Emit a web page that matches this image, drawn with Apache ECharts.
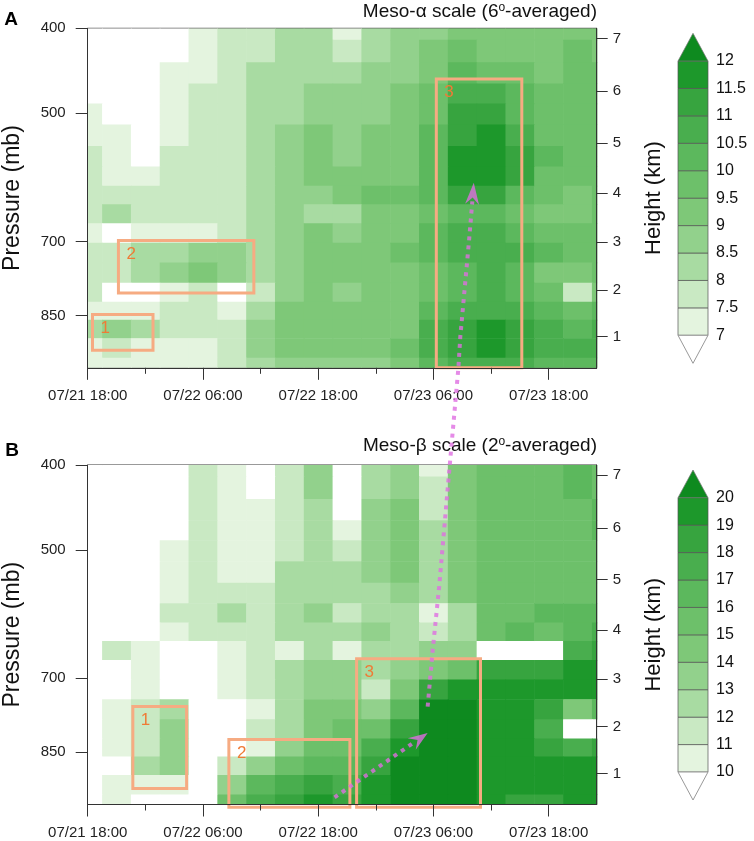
<!DOCTYPE html>
<html>
<head>
<meta charset="utf-8">
<title>Meso-alpha / Meso-beta averaged profiles</title>
<script src="https://cdn.jsdelivr.net/npm/echarts@6/dist/echarts.min.js"></script>
<style>
    html, body { margin: 0; padding: 0; background: #fff; }
    #main { width: 754px; height: 841px; }
</style>
</head>
<body>
<div id="main"></div>
<script type="text/javascript">
    // hours after 07/21 18:00, one column every 3 h
    var hours = [0, 3, 6, 9, 12, 15, 18, 21, 24, 27, 30, 33, 36, 39, 42, 45, 48, 51, 54];
    // pressure levels (mb), top to bottom
    var levels = [400, 425, 450, 475, 500, 530, 560, 590, 620, 650, 685, 720, 760, 800, 840, 880, 925, 975];

    var timeTicks = [0, 12, 24, 36, 48];
    var timeLabels = ['07/21 18:00', '07/22 06:00', '07/22 18:00', '07/23 06:00', '07/23 18:00'];
    var minorTimeTicks = [6, 18, 30, 42];
    var pressureTicks = [400, 500, 700, 850];
    var heightKm = [1, 2, 3, 4, 5, 6, 7];
    var heightPressure = [898.7, 795.0, 701.1, 616.4, 540.2, 471.8, 411.0];

    var alphaLevels = [7, 7.5, 8, 8.5, 9, 9.5, 10, 10.5, 11, 11.5, 12];
    var betaLevels = [10, 11, 12, 13, 14, 15, 16, 17, 18, 19, 20];
    var greens = ['#ffffff', '#e4f4df', '#c9e9c3', '#a8dba2', '#92d18c', '#7ec878', '#6dc06a',
        '#5cb85d', '#49ae4e', '#37a43f', '#1d982b', '#0e8a1f'];

    // Meso-alpha (6 deg averaged), one row per level
    var alphaRows = [
        [6.8, 6.8, 6.8, 6.8, 7.2, 7.7, 7.7, 8.2, 8.2, 7.2, 8.2, 8.7, 8.7, 9.2, 9.2, 9.2, 9.2, 9.2, 9.2],
        [6.8, 6.8, 6.8, 6.8, 7.2, 7.7, 7.7, 8.2, 8.2, 7.7, 8.2, 8.7, 9.2, 9.7, 9.2, 9.2, 9.2, 9.7, 9.2],
        [6.8, 6.8, 6.8, 7.2, 7.2, 7.7, 8.2, 8.2, 8.2, 8.2, 8.7, 8.7, 9.2, 10.2, 9.7, 9.7, 9.2, 9.7, 9.7],
        [6.8, 6.8, 6.8, 7.2, 7.7, 7.7, 8.2, 8.2, 8.7, 8.7, 8.7, 9.2, 9.7, 10.7, 10.7, 10.2, 9.7, 9.7, 9.7],
        [7.2, 6.8, 6.8, 7.2, 7.7, 7.7, 8.2, 8.2, 8.7, 8.7, 8.7, 9.2, 9.7, 11.2, 11.2, 10.2, 9.7, 9.7, 9.7],
        [7.2, 7.2, 6.8, 7.2, 7.7, 7.7, 8.2, 8.7, 9.2, 8.7, 9.2, 9.2, 10.2, 11.2, 11.7, 10.7, 9.7, 9.7, 9.7],
        [7.7, 7.2, 6.8, 7.7, 7.7, 7.7, 8.2, 8.7, 9.2, 8.7, 9.2, 9.2, 10.2, 11.7, 11.7, 11.2, 10.2, 9.7, 9.7],
        [7.7, 7.2, 7.2, 7.7, 7.7, 7.7, 8.2, 8.7, 9.2, 9.2, 9.2, 9.2, 10.2, 11.7, 11.7, 11.2, 9.7, 9.7, 9.7],
        [7.7, 7.7, 7.7, 7.7, 7.7, 7.7, 8.2, 8.7, 8.7, 9.2, 9.7, 9.7, 10.2, 11.2, 11.2, 10.2, 9.7, 9.2, 9.7],
        [7.7, 8.2, 7.7, 7.7, 7.7, 7.7, 8.2, 8.7, 8.2, 8.2, 9.2, 9.2, 9.7, 10.2, 10.2, 9.7, 9.2, 9.2, 9.7],
        [7.2, 6.8, 7.2, 7.2, 7.2, 7.7, 8.2, 8.7, 9.2, 8.7, 9.2, 9.2, 10.2, 10.7, 10.7, 10.2, 9.7, 9.7, 9.7],
        [7.7, 7.7, 8.2, 8.2, 8.7, 8.7, 8.2, 8.7, 9.2, 9.2, 9.2, 9.7, 10.2, 10.7, 10.7, 10.7, 10.2, 9.7, 9.7],
        [7.7, 7.7, 8.2, 8.7, 9.2, 8.7, 8.2, 8.7, 9.2, 9.2, 9.2, 9.2, 9.7, 10.2, 10.7, 10.2, 9.2, 9.2, 9.7],
        [7.7, 6.8, 6.8, 7.2, 7.7, 6.8, 7.7, 8.7, 9.2, 8.7, 9.2, 9.2, 9.7, 10.2, 10.7, 10.2, 9.7, 7.7, 9.2],
        [7.2, 7.2, 7.2, 7.7, 7.7, 7.2, 8.2, 9.2, 9.2, 9.2, 9.2, 9.2, 10.2, 10.7, 10.7, 10.7, 10.2, 9.7, 10.2],
        [8.2, 8.7, 8.2, 7.7, 7.7, 7.7, 8.7, 9.2, 9.2, 9.2, 9.2, 9.2, 10.7, 11.2, 11.7, 11.2, 10.7, 10.2, 10.7],
        [7.2, 7.7, 7.2, 7.2, 7.2, 7.7, 8.7, 9.2, 9.2, 9.2, 9.2, 9.7, 10.7, 11.2, 11.7, 11.2, 10.7, 10.7, 10.7],
        [7.2, 7.2, 7.2, 7.2, 7.2, 7.7, 8.2, 8.7, 8.7, 8.7, 8.7, 9.2, 10.2, 10.7, 10.7, 10.7, 10.2, 10.2, 10.2]
    ];

    // Meso-beta (2 deg averaged)
    var betaRows = [
        [9.5, 9.5, 9.5, 9.5, 11.5, 10.5, 9.5, 11.5, 13.5, 9.5, 12.5, 13.5, 10.5, 14.5, 15.5, 15.5, 15.5, 16.5, 15.5],
        [9.5, 9.5, 9.5, 9.5, 11.5, 10.5, 9.5, 11.5, 13.5, 9.5, 12.5, 13.5, 11.5, 14.5, 15.5, 15.5, 15.5, 16.5, 15.5],
        [9.5, 9.5, 9.5, 9.5, 11.5, 10.5, 10.5, 11.5, 12.5, 9.5, 13.5, 14.5, 11.5, 14.5, 15.5, 15.5, 15.5, 15.5, 16.5],
        [9.5, 9.5, 9.5, 9.5, 11.5, 10.5, 10.5, 11.5, 12.5, 10.5, 13.5, 14.5, 12.5, 14.5, 15.5, 15.5, 15.5, 15.5, 16.5],
        [9.5, 9.5, 9.5, 10.5, 11.5, 10.5, 10.5, 11.5, 12.5, 11.5, 13.5, 14.5, 12.5, 14.5, 15.5, 15.5, 15.5, 15.5, 15.5],
        [9.5, 9.5, 9.5, 10.5, 11.5, 10.5, 10.5, 12.5, 12.5, 12.5, 13.5, 14.5, 12.5, 14.5, 15.5, 15.5, 15.5, 15.5, 15.5],
        [9.5, 9.5, 9.5, 10.5, 11.5, 11.5, 11.5, 12.5, 12.5, 12.5, 12.5, 13.5, 12.5, 14.5, 15.5, 15.5, 15.5, 15.5, 15.5],
        [9.5, 9.5, 9.5, 11.5, 11.5, 12.5, 11.5, 12.5, 13.5, 11.5, 12.5, 12.5, 10.5, 12.5, 15.5, 15.5, 16.5, 16.5, 16.5],
        [9.5, 9.5, 9.5, 10.5, 11.5, 11.5, 11.5, 12.5, 12.5, 12.5, 13.5, 12.5, 11.5, 12.5, 15.5, 16.5, 15.5, 16.5, 17.5],
        [9.5, 11.5, 10.5, 9.5, 9.5, 10.5, 11.5, 10.5, 12.5, 10.5, 12.5, 12.5, 13.5, 13.5, 9.5, 9.5, 9.5, 17.5, 18.5],
        [9.5, 9.5, 10.5, 9.5, 9.5, 10.5, 11.5, 12.5, 13.5, 13.5, 12.5, 13.5, 14.5, 15.5, 18.5, 18.5, 18.5, 19.5, 19.5],
        [9.5, 9.5, 10.5, 9.5, 9.5, 10.5, 11.5, 12.5, 13.5, 13.5, 11.5, 14.5, 18.5, 19.5, 19.5, 19.5, 19.5, 19.5, 19.5],
        [9.5, 10.5, 11.5, 12.5, 9.5, 9.5, 10.5, 12.5, 14.5, 14.5, 13.5, 16.5, 20.5, 20.5, 19.5, 19.5, 18.5, 14.5, 16.5],
        [9.5, 10.5, 11.5, 13.5, 9.5, 9.5, 11.5, 12.5, 14.5, 15.5, 15.5, 18.5, 20.5, 20.5, 19.5, 19.5, 17.5, 9.5, 9.5],
        [9.5, 10.5, 11.5, 13.5, 9.5, 9.5, 10.5, 13.5, 15.5, 15.5, 17.5, 19.5, 20.5, 20.5, 19.5, 19.5, 18.5, 17.5, 18.5],
        [9.5, 9.5, 12.5, 13.5, 9.5, 11.5, 13.5, 15.5, 16.5, 16.5, 18.5, 20.5, 20.5, 20.5, 19.5, 19.5, 19.5, 19.5, 19.5],
        [9.5, 10.5, 10.5, 10.5, 9.5, 13.5, 16.5, 17.5, 18.5, 17.5, 19.5, 20.5, 20.5, 20.5, 19.5, 19.5, 19.5, 19.5, 19.5],
        [9.5, 10.5, 9.5, 9.5, 9.5, 15.5, 17.5, 18.5, 19.5, 18.5, 19.5, 20.5, 20.5, 20.5, 19.5, 18.5, 18.5, 19.5, 19.5]
    ];

    // boxes: [start hour, end hour, top mb, bottom mb, label]
    var alphaBoxes = [[0.5, 6.8, 848, 931, '1'], [3.2, 17.3, 698, 801, '2'], [36.3, 45.2, 457, 975, '3']];
    var betaBoxes = [[4.7, 10.3, 754, 935, '1'], [14.7, 27.3, 822, 982, '2'], [28.0, 40.9, 665, 982, '3']];
    // arrows: [panel, hour, mb], last point is the tip
    var arrowLong = [[1, 35.4, 754], [1, 35.9, 654], [1, 36.6, 550], [1, 37.7, 400], [0, 38.6, 975],
        [0, 38.8, 898], [0, 39.7, 700], [0, 40.05, 630], [0, 40.2, 600]];
    var arrowShort = [[1, 25.7, 957], [1, 34.0, 828], [1, 35.4, 808]];

    var FONT = '"Liberation Sans", Arial, Helvetica, sans-serif';
    var GRID_LEFT = 87.7, GRID_W = 509, GRID_H = 339.5;
    var panelTops = [28.3, 465];
    var T_MAX = 53;

    var myChart = echarts.init(document.getElementById('main'));

    function colorFor(v, thresholds) {
        var k = 0;
        for (var i = 0; i < thresholds.length; i++) {
            if (v >= thresholds[i]) k = i + 1;
        }
        return greens[k];
    }

    function cellData(rows) {
        var out = [];
        rows.forEach(function (row, r) {
            row.forEach(function (v, c) {
                out.push([hours[c], Math.log(levels[r]), v, r]);
            });
        });
        return out;
    }

    function cellRenderer(thresholds) {
        return function (params, api) {
            var h = api.value(0), v = api.value(2), r = api.value(3);
            var pTop = r === 0 ? levels[0] : Math.sqrt(levels[r - 1] * levels[r]);
            var pBot = r === levels.length - 1 ? levels[r] : Math.sqrt(levels[r] * levels[r + 1]);
            var a = api.coord([Math.max(0, h - 1.5), Math.log(pTop)]);
            var b = api.coord([Math.min(T_MAX, h + 1.5), Math.log(pBot)]);
            return {
                type: 'rect',
                shape: {x: a[0], y: a[1], width: b[0] - a[0] + 0.6, height: b[1] - a[1] + 0.6},
                style: {fill: colorFor(v, thresholds)}
            };
        };
    }

    function boxRenderer(boxes) {
        return function (params, api) {
            var a = api.coord([api.value(0), Math.log(api.value(2))]);
            var b = api.coord([api.value(1), Math.log(api.value(3))]);
            return {
                type: 'group',
                children: [{
                    type: 'rect',
                    shape: {x: a[0], y: a[1], width: b[0] - a[0], height: b[1] - a[1]},
                    style: {fill: 'none', stroke: '#f6ab82', lineWidth: 3}
                }, {
                    type: 'text',
                    x: a[0] + 8, y: a[1] + 5,
                    style: {text: boxes[params.dataIndex][4], fill: '#ef7b36', fontSize: 17, fontFamily: FONT, verticalAlign: 'top'}
                }]
            };
        };
    }

    var axisLineStyle = {color: '#333', width: 1};
    var lnMin = Math.log(400), lnMax = Math.log(975);

    function timeAxis(gi) {
        return {
            type: 'value', gridIndex: gi, min: 0, max: T_MAX, position: 'bottom', z: 10,
            axisLine: {show: true, onZero: false, lineStyle: axisLineStyle},
            axisTick: {show: true, length: 12, customValues: timeTicks, lineStyle: axisLineStyle},
            axisLabel: {
                customValues: timeTicks, margin: 21, fontSize: 15, color: '#222', fontFamily: FONT,
                formatter: function (v) {
                    var i = timeTicks.indexOf(Math.round(v));
                    return i < 0 ? '' : timeLabels[i];
                }
            },
            splitLine: {show: false}
        };
    }

    function minorTimeAxis(gi) {
        return {
            type: 'value', gridIndex: gi, min: 0, max: T_MAX, position: 'bottom', z: 10,
            axisLine: {show: false, onZero: false},
            axisTick: {show: true, length: 6, customValues: minorTimeTicks, lineStyle: axisLineStyle},
            axisLabel: {show: false},
            splitLine: {show: false}
        };
    }

    function pressureAxis(gi) {
        var vals = pressureTicks.map(Math.log);
        return {
            type: 'value', gridIndex: gi, min: lnMin, max: lnMax, inverse: true, position: 'left', z: 10,
            name: 'Pressure (mb)', nameLocation: 'middle', nameRotate: 90, nameGap: 64,
            nameTextStyle: {fontSize: 23, color: '#111', fontFamily: FONT},
            axisLine: {show: true, onZero: false, lineStyle: axisLineStyle},
            axisTick: {show: true, length: 12, customValues: vals, lineStyle: axisLineStyle},
            axisLabel: {
                customValues: vals, margin: 22, fontSize: 15, color: '#222', fontFamily: FONT,
                formatter: function (v) { return String(Math.round(Math.exp(v))); }
            },
            splitLine: {show: false}
        };
    }

    function heightAxis(gi) {
        var vals = heightPressure.map(Math.log);
        return {
            type: 'value', gridIndex: gi, min: lnMin, max: lnMax, inverse: true, position: 'right', z: 10,
            name: 'Height (km)', nameLocation: 'middle', nameRotate: 90, nameGap: 46,
            nameTextStyle: {fontSize: 22, color: '#111', fontFamily: FONT},
            axisLine: {show: true, onZero: false, lineStyle: axisLineStyle},
            axisTick: {show: true, length: 11, customValues: vals, lineStyle: axisLineStyle},
            axisLabel: {
                customValues: vals, margin: 16, fontSize: 15, color: '#222', fontFamily: FONT,
                formatter: function (v) {
                    for (var i = 0; i < vals.length; i++) {
                        if (Math.abs(vals[i] - v) < 1e-6) return String(heightKm[i]);
                    }
                    return '';
                }
            },
            splitLine: {show: false}
        };
    }

    var titleStyle = {
        fontSize: 19, fontWeight: 'normal', color: '#111', fontFamily: FONT,
        rich: {sup: {fontSize: 12, fontFamily: FONT, color: '#111', verticalAlign: 'top', padding: [0, 0, 8, 0]}}
    };

    option = {
        backgroundColor: '#fff',
        animation: false,
        title: [{
            text: 'Meso-\u03b1 scale (6{sup|o}-averaged)', right: 157, top: 2, padding: 0, textStyle: titleStyle
        }, {
            text: 'Meso-\u03b2 scale (2{sup|o}-averaged)', right: 157, top: 436, padding: 0, textStyle: titleStyle
        }],
        grid: panelTops.map(function (t) {
            return {left: GRID_LEFT, top: t, width: GRID_W, height: GRID_H, show: true,
                outerBoundsMode: 'none', containLabel: false,
                borderColor: '#333', borderWidth: 1, backgroundColor: 'transparent'};
        }),
        xAxis: [timeAxis(0), minorTimeAxis(0), timeAxis(1), minorTimeAxis(1)],
        yAxis: [pressureAxis(0), heightAxis(0), pressureAxis(1), heightAxis(1)],
        series: [{
            type: 'custom', name: 'alpha', xAxisIndex: 0, yAxisIndex: 0, clip: true, z: 1,
            renderItem: cellRenderer(alphaLevels), data: cellData(alphaRows)
        }, {
            type: 'custom', name: 'beta', xAxisIndex: 2, yAxisIndex: 2, clip: true, z: 1,
            renderItem: cellRenderer(betaLevels), data: cellData(betaRows)
        }, {
            type: 'custom', name: 'alphaBoxes', xAxisIndex: 0, yAxisIndex: 0, clip: false, z: 5,
            renderItem: boxRenderer(alphaBoxes),
            data: alphaBoxes.map(function (b) { return [b[0], b[1], b[2], b[3]]; })
        }, {
            type: 'custom', name: 'betaBoxes', xAxisIndex: 2, yAxisIndex: 2, clip: false, z: 5,
            renderItem: boxRenderer(betaBoxes),
            data: betaBoxes.map(function (b) { return [b[0], b[1], b[2], b[3]]; })
        }]
    };
    myChart.setOption(option);

    // colour bars next to each panel
    function colorbar(top, thresholds) {
        var els = [];
        var x = 678, w = 30, boxTop = top + 32.7, boxH = 27.43, boxBot = boxTop + 10 * boxH;
        for (var k = 1; k <= 10; k++) {
            els.push({type: 'rect', z: 50, shape: {x: x, y: boxBot - k * boxH, width: w, height: boxH},
                style: {fill: greens[k], stroke: '#555', lineWidth: 0.7}});
        }
        els.push({type: 'polygon', z: 50, shape: {points: [[x, boxTop], [x + w, boxTop], [x + w / 2, top + 5]]},
            style: {fill: greens[11], stroke: '#777', lineWidth: 0.7}});
        els.push({type: 'polygon', z: 50, shape: {points: [[x, boxBot], [x + w, boxBot], [x + w / 2, top + 335]]},
            style: {fill: '#fff', stroke: '#999', lineWidth: 1}});
        thresholds.forEach(function (t, i) {
            els.push({type: 'text', z: 50, x: 716, y: boxBot - i * boxH,
                style: {text: String(t), fontSize: 16, fontFamily: FONT, fill: '#111', align: 'left', verticalAlign: 'middle'}});
        });
        return els;
    }

    function toPixel(pt) {
        return myChart.convertToPixel({gridIndex: pt[0]}, [pt[1], Math.log(pt[2])]);
    }

    var arrowColor = 'rgba(222, 110, 225, 0.8)';
    function arrow(path, headW) {
        var pts = path.map(toPixel);
        var tip = pts[pts.length - 1], base = pts[pts.length - 2];
        var dx = tip[0] - base[0], dy = tip[1] - base[1];
        var len = Math.sqrt(dx * dx + dy * dy);
        var ux = dx / len, uy = dy / len, nx = -uy, ny = ux;
        return [{
            type: 'polyline', z: 60, shape: {points: pts.slice(0, pts.length - 1)},
            style: {stroke: arrowColor, lineWidth: 4, lineDash: [4, 5], fill: null}
        }, {
            type: 'polygon', z: 60,
            shape: {points: [tip, [base[0] + nx * headW - ux * 3, base[1] + ny * headW - uy * 3],
                [base[0] + ux * 4, base[1] + uy * 4], [base[0] - nx * headW - ux * 3, base[1] - ny * headW - uy * 3]]},
            style: {fill: arrowColor}
        }];
    }

    var graphics = [].concat(
        colorbar(panelTops[0], alphaLevels),
        colorbar(panelTops[1], betaLevels),
        arrow(arrowLong, 7),
        arrow(arrowShort, 7),
        [{type: 'text', z: 50, x: 11, y: 20, style: {text: 'A', fontSize: 19, fontWeight: 'bold', fontFamily: FONT, fill: '#000', align: 'center', verticalAlign: 'middle'}},
         {type: 'text', z: 50, x: 12, y: 451, style: {text: 'B', fontSize: 19, fontWeight: 'bold', fontFamily: FONT, fill: '#000', align: 'center', verticalAlign: 'middle'}}]
    );
    myChart.setOption({graphic: {elements: graphics}});
</script>
</body>
</html>
